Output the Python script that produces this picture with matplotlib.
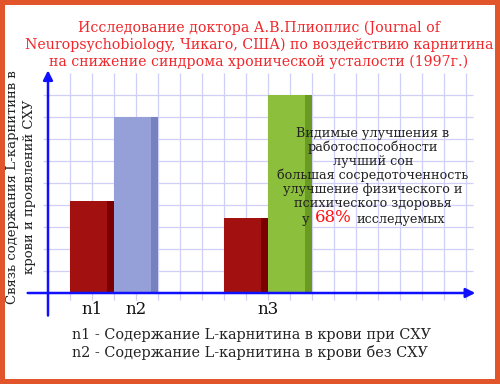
import matplotlib.pyplot as plt
from matplotlib.patches import Rectangle
import numpy as np

# Данные (высота столбцов в клетках сетки)
categories = ['n1', 'n2', 'n3']
cat_pos = [2, 4, 10]
bar_pos = np.array([2, 4, 9, 11])
bar_vals = np.array([4.2, 8.0, 3.4, 9.0])
bar_colors = ['#a31010', '#95a0d8', '#a31010', '#8bbf3c']
edge_colors = ['#7a0000', '#7682c0', '#7a0000', '#6a9a22']

title_lines = ['Исследование доктора А.В.Плиоплис (Journal of',
               'Neuropsychobiology, Чикаго, США) по воздействию карнитина',
               'на снижение синдрома хронической усталости (1997г.)']
ylabel = 'Связь содержания L-карнитинв в\nкрови и проявлений СХУ'
note_lines = ['Видимые улучшения в', 'работоспособности', 'лучший сон',
              'большая сосредоточенность', 'улучшение физического и',
              'психического здоровья']
legend_lines = ['n1 - Содержание L-карнитина в крови при СХУ',
                'n2 - Содержание L-карнитина в крови без СХУ']

W, H = 500, 384
plt.rcParams['font.family'] = ['DejaVu Serif']
fig = plt.figure(figsize=(5.0, 3.84), dpi=100)
fig.patch.set_facecolor('#e2552a')
fig.patches.append(Rectangle((5 / W, 5 / H), 490 / W, 374 / H, transform=fig.transFigure,
                             facecolor='white', edgecolor='none', zorder=-5))


def px(x, y):
    return x / W, 1 - y / H


# оси: 1 клетка = 22 px, начало координат в (48, 293)
left, right, top, bottom = 20, 482, 62, 322
ax = fig.add_axes([left / W, 1 - bottom / H, (right - left) / W, (bottom - top) / H])
ax.set_xlim((left - 48) / 22, (right - 48) / 22)
ax.set_ylim((293 - bottom) / 22, (293 - top) / 22)
ax.axis('off')

grid_c = '#cfcff7'
ax.vlines(np.arange(1, 20), -0.32, 10.0, color=grid_c, lw=0.9, zorder=1)
ax.hlines(np.arange(1, 10), -0.23, 19.3, color=grid_c, lw=0.9, zorder=1)

# столбцы с тёмной правой гранью
ax.bar(bar_pos, bar_vals, width=2, color=bar_colors, zorder=2)
ax.bar(bar_pos + 1 - 0.15, bar_vals, width=0.3, color=edge_colors, zorder=3)

blue = '#1010ff'
ax.annotate('', xy=(19.55, 0), xytext=(-1.05, 0),
            arrowprops=dict(arrowstyle='-|>', color=blue, lw=1.8, mutation_scale=14), zorder=4)
ax.annotate('', xy=(0, 10.25), xytext=(0, -1.15),
            arrowprops=dict(arrowstyle='-|>', color=blue, lw=1.8, mutation_scale=14), zorder=4)

for lab, p in zip(categories, cat_pos):
    ax.text(p, -0.75, lab, ha='center', va='center', fontsize=12, color='#111111')

# заголовок
for i, line in enumerate(title_lines):
    fig.text(*px(259, 28 + 17 * i), line, ha='center', va='center', fontsize=10.2, color='#f0262a')

fig.text(*px(21, 187), ylabel, rotation=90, ha='center', va='center', fontsize=9.5,
         color='#222222', linespacing=1.3)

# пояснение
for i, line in enumerate(note_lines):
    fig.text(*px(373, 133 + 14.2 * i), line, ha='center', va='center', fontsize=9.2, color='#222222')
fig.text(*px(309, 219), 'у', ha='right', va='center', fontsize=9.2, color='#222222')
fig.text(*px(333, 217), '68%', ha='center', va='center', fontsize=12, color='#ff1010')
fig.text(*px(357, 219), 'исследуемых', ha='left', va='center', fontsize=9.2, color='#222222')

for i, line in enumerate(legend_lines):
    fig.text(*px(72, 335 + 17 * i), line, ha='left', va='center', fontsize=10.4, color='#222222')

fig.savefig('out.png', dpi=100, facecolor=fig.get_facecolor())
